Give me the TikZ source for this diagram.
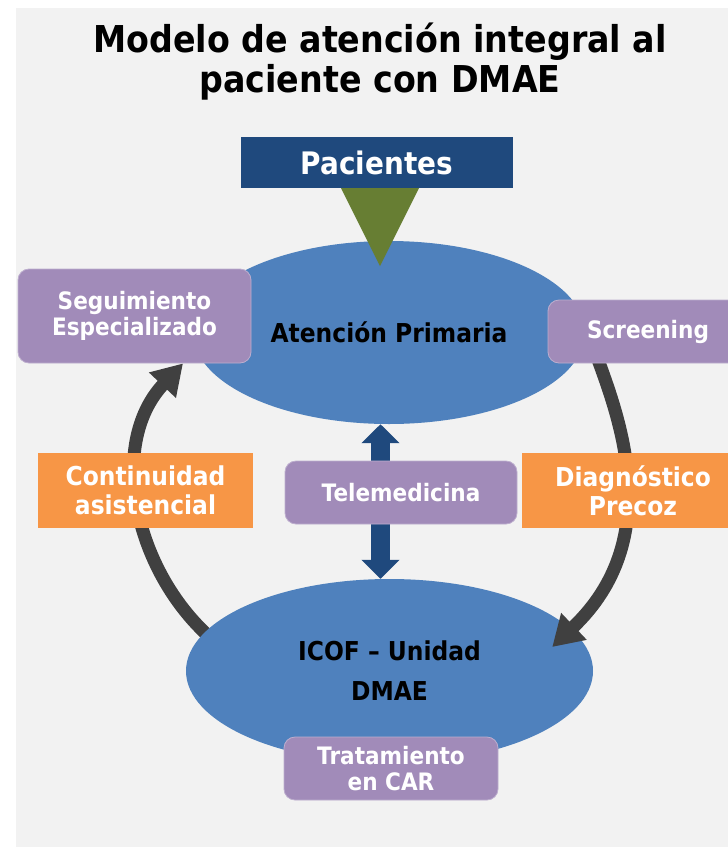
\documentclass[tikz,border=0pt]{standalone}
\usepackage{fontspec}
\newfontfamily\dvb[FakeStretch=0.9]{DejaVu Sans Bold}
\usetikzlibrary{arrows.meta,shapes.geometric,calc}
\definecolor{bggray}{HTML}{F2F2F2}
\definecolor{navy}{HTML}{1F497D}
\definecolor{ellblue}{HTML}{4F81BD}
\definecolor{lilac}{HTML}{A18BB9}
\definecolor{orng}{HTML}{F79646}
\definecolor{olive}{HTML}{677E33}
\definecolor{arrowgray}{HTML}{404040}
\pgfdeclarelayer{bglayer}
\pgfdeclarelayer{lowarrow}
\pgfdeclarelayer{higharrow}
\pgfdeclarelayer{front}
\pgfsetlayers{bglayer,lowarrow,main,higharrow,front}
\begin{document}
\begin{tikzpicture}[x=1pt,y=-1pt,
  purplebox/.style={rounded corners=11pt, fill=lilac, draw=lilac!70!white, line width=0.8pt, text=white,
    font={\dvb\fontsize{24}{26}\selectfont}, align=center, inner sep=0pt},
  orangebox/.style={fill=orng, text=white, font={\dvb\fontsize{26}{29}\selectfont}, align=center, inner sep=0pt},
  bluell/.style={ellipse, fill=ellblue, inner sep=0pt, text=black, font={\dvb\fontsize{26}{40}\selectfont}, align=center},
  cyclearrow/.style={draw=arrowgray, line width=13pt, -{Triangle[width=35pt,length=30pt]}},
  telearrow/.style={draw=navy, line width=19pt, {Triangle[width=37pt,length=19pt]}-{Triangle[width=37pt,length=19pt]}},
]
\useasboundingbox (0,0) rectangle (728,847);
\begin{pgfonlayer}{bglayer}
  \fill[bggray] (16,8) rectangle (728,847);
\end{pgfonlayer}

% title
\begin{pgfonlayer}{front}
  \node[font={\dvb\fontsize{37}{40}\selectfont}, align=center, inner sep=0pt, text=black] (title) at (380,62)
    {Modelo de atención integral al\\paciente con DMAE};
\end{pgfonlayer}

% ellipses
\node[bluell, minimum width=392pt, minimum height=183pt] (ap) at (389,332.5) {Atención Primaria};
\node[bluell, minimum width=407pt, minimum height=184pt] (icof) at (389.5,671) {ICOF – Unidad\\DMAE};

% boxes
\begin{pgfonlayer}{front}
  \node[fill=navy, minimum width=272pt, minimum height=51pt, inner sep=0pt, text=white,
        font={\dvb\fontsize{31}{31}\selectfont}] (pac) at (377,162.5) {Pacientes};
  \node[purplebox, minimum width=233pt, minimum height=94pt] (seg) at (134.5,316) {Seguimiento\\Especializado};
  \node[purplebox, minimum width=200pt, minimum height=63pt] (scr) at (648,331.5) {Screening};
  \node[purplebox, minimum width=232pt, minimum height=63pt] (tele) at (401,492.5) {Telemedicina};
  \node[purplebox, minimum width=214pt, minimum height=63pt] (trat) at (391,768.5) {Tratamiento\\en CAR};
  \node[orangebox, minimum width=215pt, minimum height=75pt] (cont) at (145.5,490.5) {Continuidad\\asistencial};
  \node[orangebox, minimum width=222pt, minimum height=75pt] (diag) at (633,490.5) {Diagnóstico\\Precoz};
\end{pgfonlayer}

% green funnel from Pacientes into Atención Primaria
\fill[olive] ($(pac.south)+(-36,0)$) -- ($(pac.south)+(42,0)$) -- ($(pac.south)+(3,78)$) -- cycle;

% telemedicine double arrow
\draw[telearrow] ($(ap.south)+(-8.5,0)$) -- ($(icof.north)+(-9,0)$);

% cycle arrows
\begin{pgfonlayer}{lowarrow}
  \draw[cyclearrow] ($(icof.168)+(10,10)$) .. controls (135,575) and (106,445) .. ($(seg.south)+(48.5,0)$);
\end{pgfonlayer}
\begin{pgfonlayer}{higharrow}
  \draw[cyclearrow] ($(scr.south west)+(50,-5)$) .. controls (620,420) and (665,540) .. ($(icof.east)+(-41,-24)$);
\end{pgfonlayer}
\end{tikzpicture}
\end{document}
